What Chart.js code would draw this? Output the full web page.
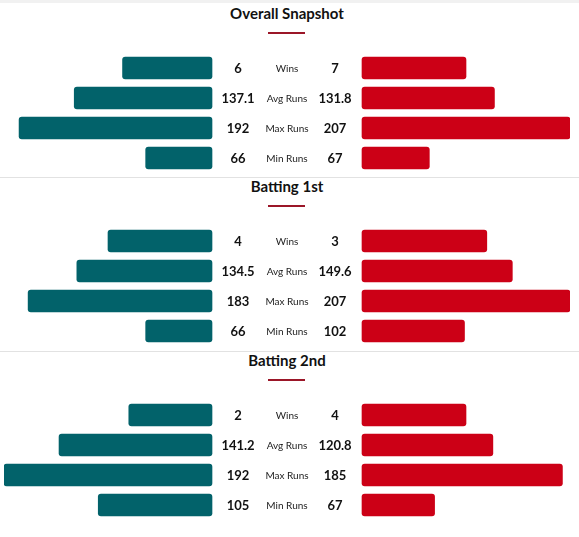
<!DOCTYPE html>
<html>
<head>
<meta charset="utf-8">
<script src="https://cdn.jsdelivr.net/npm/chart.js@4"></script>
<style>
  html, body { margin: 0; padding: 0; background: #fff; width: 579px; height: 537px; overflow: hidden; font-family: Lato, "Open Sans", sans-serif; }
  #root { position: relative; width: 579px; height: 537px; }
  .topband { position: absolute; left: 0; top: 0; width: 579px; height: 3px; background: #f1f1f1; }
  .section { position: absolute; left: 0; width: 579px; height: 174px; }
  .title { position: absolute; left: 0; width: 574px; top: 0; text-align: center; font-weight: 700; font-size: 15px; line-height: 20px; color: #111; }
  .uline { position: absolute; left: 268px; width: 37px; top: 29px; height: 2px; background: #9b1628; }
  .sep { position: absolute; left: 0; width: 579px; top: 174px; height: 1px; background: #e2e2e2; }
  canvas { position: absolute; left: 4px; top: 50px; }
</style>
</head>
<body>
<div id="root"><div class="topband"></div></div>
<script>
// ---- data ----
const sectionTitles = ['Overall Snapshot', 'Batting 1st', 'Batting 2nd'];
const categories = ['Wins', 'Avg Runs', 'Max Runs', 'Min Runs'];

const teamAOverall = [6, 137.1, 192, 66];
const teamBOverall = [7, 131.8, 207, 67];
const teamABat1 = [4, 134.5, 183, 66];
const teamBBat1 = [3, 149.6, 207, 102];
const teamABat2 = [2, 141.2, 192, 105];
const teamBBat2 = [4, 120.8, 185, 67];

const teamALabelsOverall = ['6', '137.1', '192', '66'];
const teamBLabelsOverall = ['7', '131.8', '207', '67'];
const teamALabelsBat1 = ['4', '134.5', '183', '66'];
const teamBLabelsBat1 = ['3', '149.6', '207', '102'];
const teamALabelsBat2 = ['2', '141.2', '192', '105'];
const teamBLabelsBat2 = ['4', '120.8', '185', '67'];

// win percentage (drives the Wins bar length), per section
const teamAWinPct = [43, 50, 40];
const teamBWinPct = [50, 60, 50];

// ---- styling ----
const teamAColor = '#02626a';
const teamBColor = '#cc0016';
const GAP = 75 / 208 * 100;   // centre gap in bar units
const FULL = 100;

const sectionsA = [teamAOverall, teamABat1, teamABat2];
const sectionsB = [teamBOverall, teamBBat1, teamBBat2];
const labelsA = [teamALabelsOverall, teamALabelsBat1, teamALabelsBat2];
const labelsB = [teamBLabelsOverall, teamBLabelsBat1, teamBLabelsBat2];
const sectionTops = [3, 176, 350];
const sepTops = [174, 175];

const root = document.getElementById('root');

function barLengths(vals, other, winPct) {
  const runsMax = Math.max(...vals.slice(1), ...other.slice(1));
  return vals.map((v, i) => i === 0 ? winPct : v / runsMax * FULL);
}

const textPlugin = {
  id: 'centreText',
  afterDatasetsDraw(chart) {
    const { ctx } = chart;
    const o = chart.options.plugins.centreText;
    const xs = chart.scales.x, ys = chart.scales.y;
    const xc = xs.getPixelForValue(0);
    ctx.save();
    ctx.textBaseline = 'middle';
    ctx.textAlign = 'center';
    categories.forEach((c, i) => {
      const y = ys.getPixelForValue(i) + 0.5;
      ctx.fillStyle = '#111';
      ctx.font = '700 13px Lato, sans-serif';
      ctx.fillText(o.left[i], xc - 49, y);
      ctx.fillText(o.right[i], xc + 48, y);
      ctx.fillStyle = '#222';
      ctx.font = '400 10px Lato, sans-serif';
      ctx.fillText(c, xc, y);
    });
    ctx.restore();
  }
};

sectionTitles.forEach((title, s) => {
  const sec = document.createElement('div');
  sec.className = 'section';
  sec.style.top = sectionTops[s] + 'px';
  sec.innerHTML = '<div class="title">' + title + '</div><div class="uline"></div>' +
    (s < 2 ? '<div class="sep" style="top:' + sepTops[s] + 'px"></div>' : '');
  const cv = document.createElement('canvas');
  cv.width = 566; cv.height = 120;
  cv.style.width = '566px'; cv.style.height = '120px';
  sec.appendChild(cv);
  root.appendChild(sec);

  const lenA = barLengths(sectionsA[s], sectionsB[s], teamAWinPct[s]);
  const lenB = barLengths(sectionsB[s], sectionsA[s], teamBWinPct[s]);

  new Chart(cv, {
    type: 'bar',
    data: {
      labels: categories,
      datasets: [
        { data: lenA.map(l => [-(GAP + l), -GAP]), backgroundColor: teamAColor, barThickness: 22, borderRadius: 3, borderSkipped: false, grouped: false },
        { data: lenB.map(l => [GAP, GAP + l]), backgroundColor: teamBColor, barThickness: 22, borderRadius: 3, borderSkipped: false, grouped: false }
      ]
    },
    options: {
      indexAxis: 'y',
      responsive: false,
      animation: false,
      layout: { padding: 0 },
      scales: {
        x: { type: 'linear', min: -(GAP + FULL), max: GAP + FULL, display: false },
        y: { display: false, offset: true }
      },
      plugins: {
        legend: { display: false },
        tooltip: { enabled: false },
        centreText: { left: labelsA[s], right: labelsB[s] }
      }
    },
    plugins: [textPlugin]
  });
});
</script>
</body>
</html>
